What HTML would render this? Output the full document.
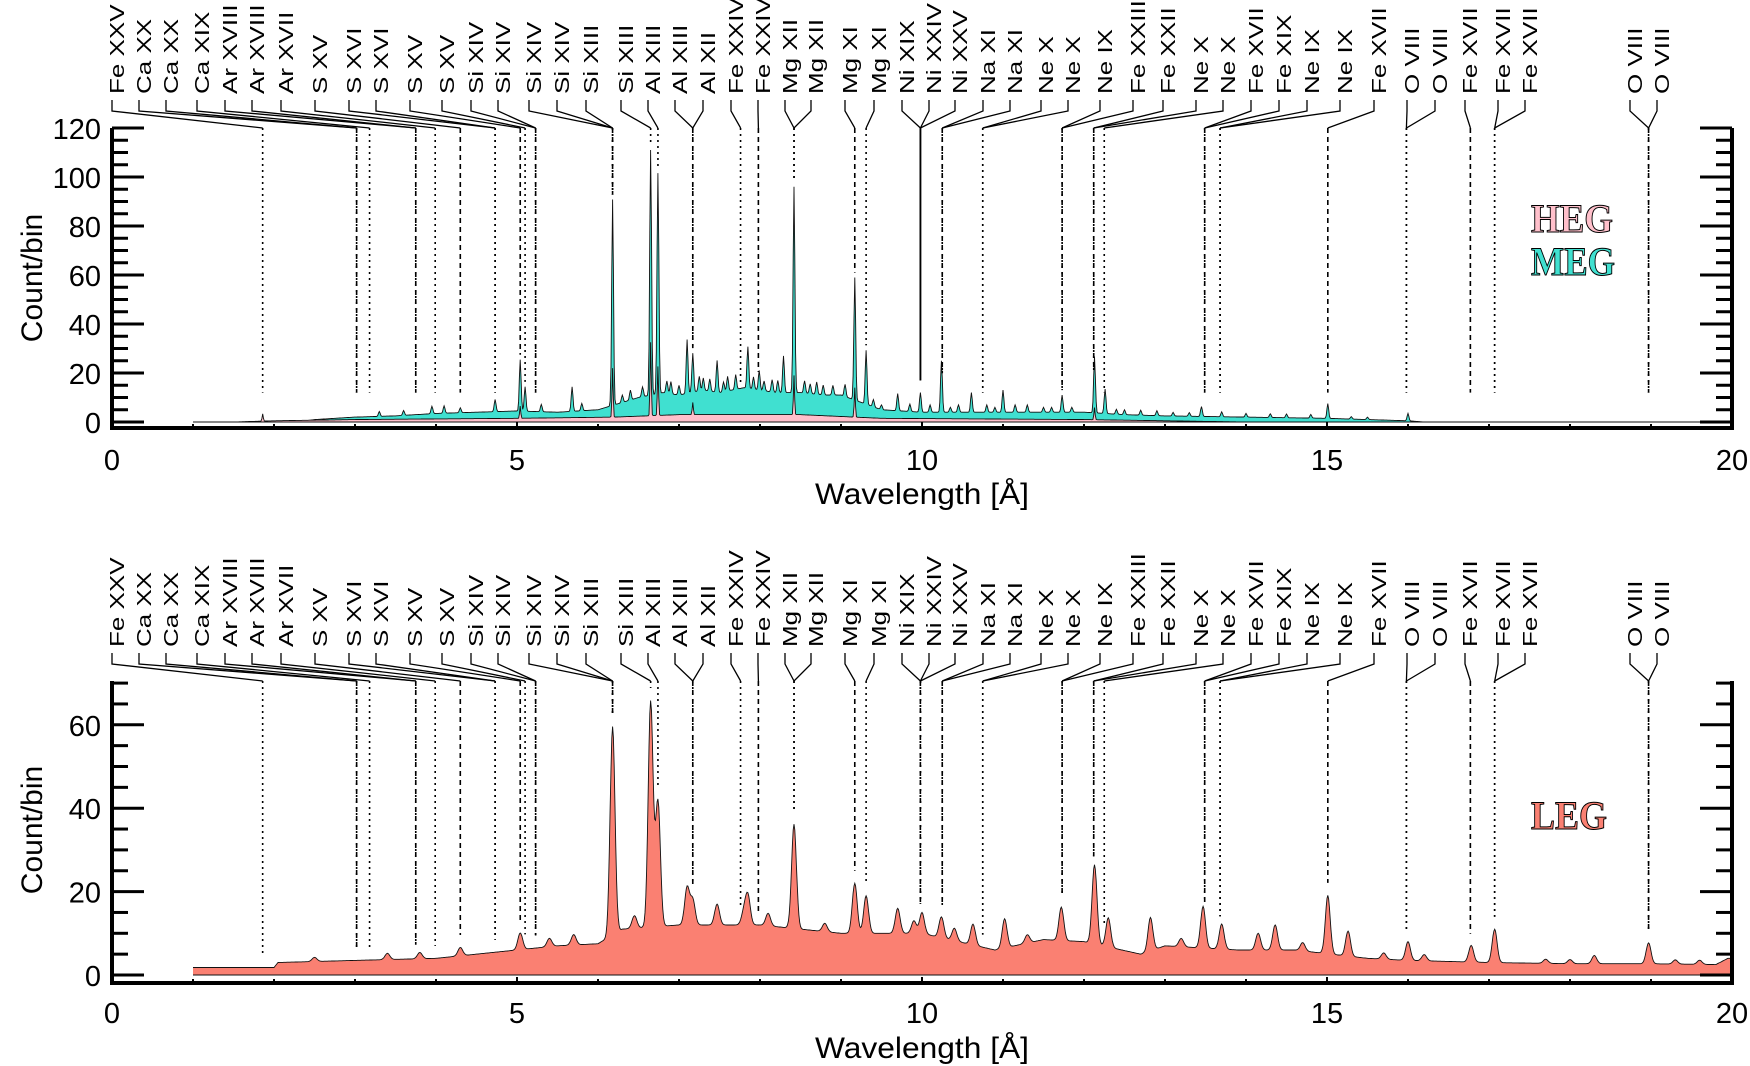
<!DOCTYPE html>
<html><head><meta charset="utf-8"><style>
html,body{margin:0;padding:0;background:#fff;}
svg{display:block;font-family:"Liberation Sans",sans-serif;}
</style></head><body>
<svg id="chart" width="1750" height="1066" viewBox="0 0 1750 1066" xmlns="http://www.w3.org/2000/svg">
<g id="top-panel"></g>
<g id="bot-panel"></g>
</svg>
<script>
// ---- data ----
const lineLabels = ["Fe XXV","Ca XX","Ca XX","Ca XIX","Ar XVIII","Ar XVIII","Ar XVII","S XV","S XVI","S XVI","S XV","S XV","Si XIV","Si XIV","Si XIV","Si XIV","Si XIII","Si XIII","Al XIII","Al XIII","Al XII","Fe XXIV","Fe XXIV","Mg XII","Mg XII","Mg XI","Mg XI","Ni XIX","Ni XXIV","Ni XXV","Na XI","Na XI","Ne X","Ne X","Ne IX","Fe XXIII","Fe XXII","Ne X","Ne X","Fe XVII","Fe XIX","Ne IX","Ne IX","Fe XVII","O VIII","O VIII","Fe XVII","Fe XVII","Fe XVII","O VIII","O VIII"];
const lineWave = [1.86,3.02,3.02,3.18,3.75,3.75,3.99,4.30,4.73,4.73,5.04,5.10,5.23,5.23,6.18,6.18,6.18,6.65,6.74,7.17,7.17,7.76,7.98,8.42,8.42,9.17,9.31,9.98,9.98,9.98,10.25,10.25,10.75,10.75,11.73,11.73,12.12,12.12,12.25,13.49,13.49,13.68,13.68,15.01,15.98,15.98,16.77,17.07,17.07,18.97,18.97];
const labelSlotPx = [112,139,166,197,225,252,281,315,349,376,410,442,471,498,529,557,586,621,648,675,703,731,758,785,811,845,874,902,929,955,983,1010,1041,1068,1100,1133,1163,1196,1223,1251,1279,1307,1340,1374,1407,1435,1465,1498,1525,1630,1657];

const megContWave = [1.0,2.3,2.5,3.0,3.5,4.0,4.5,5.0,5.5,6.0,6.3,6.5,6.8,7.0,7.3,7.5,7.8,8.0,8.2,8.5,8.8,9.0,9.5,10.0,11.0,12.0,12.5,13.0,14.0,15.0,16.0,16.2];
const megContVal  = [0,0,1,2,2.5,3.5,4,4.5,4,5,8,10,12,11,13,12,14,13,12,12,11,11,5,4,4,4,3,2.5,2,1.5,0.5,0];
const megPeakWave = [3.95,4.30,4.73,5.04,5.10,5.68,6.18,6.65,6.74,7.10,7.17,7.47,7.85,7.99,8.29,8.42,9.17,9.31,9.70,9.98,10.24,10.61,11.00,11.73,12.13,12.26,13.45,15.01,16.00,16.78,17.06,6.40,6.90,7.30,7.60,8.15,8.70,8.90,10.45,10.80,11.30,11.50,12.50,12.90,14.00,14.50,3.3,3.6,4.1,5.3,5.8,6.3,6.55,6.85,7.0,7.25,7.38,7.55,7.7,7.92,8.05,8.22,8.55,8.62,8.78,9.05,9.4,9.5,9.85,10.1,10.35,10.9,11.15,11.6,11.85,12.4,12.7,13.1,13.3,13.7,14.3,14.8,15.3,15.5];
const megPeakAmp  = [3,2,5,21,10,10,84,100,90,22,16,13,17,8,15,84,50,22,7,8,21,8,9,7,23,10,4,6,3,1.5,1,4,5,5,6,5,5,4,3,3,3,2,2,2,1.5,1.5,2,2,3,3,3,3,4,5,4,6,5,4,6,5,4,5,5,4,4,5,3,2,3,3,2,2,3,2,2,2,2,1.5,1.5,2,1.5,1.5,1,1];
const hegContWave = [1.5,2.0,3.0,5.0,6.2,7.0,8.5,9.5,12.0,13.0,14.0];
const hegContVal  = [0,0.5,1,1.5,2,3,3,1.5,1,0.5,0];
const hegPeakWave = [1.86,5.04,6.18,6.65,6.74,7.17,8.42,9.17,12.13];
const hegPeakAmp  = [3,5,20,30,20,5,16,12,5];
const legContWave = [1.0,2.0,2.05,3.0,4.0,4.5,5.0,5.5,6.0,6.3,7.0,7.5,8.0,8.5,9.0,9.5,10.0,10.9,11.5,12.0,12.7,13.0,13.9,14.6,15.5,16.0,17.0,18.0,19.0,19.8,19.95,20.0];
const legContVal  = [1.8,1.8,3,3.5,4,5,6,7,7.5,11,12,12,12,11,10,10,10,6,8.5,8,5,7,6,6,4,3.5,3,2.7,2.7,2.5,4,4];
const legPeakWave = [5.04,6.18,6.65,6.74,7.10,7.17,7.47,7.85,8.42,9.17,9.31,9.70,10.00,10.24,10.63,11.02,11.72,12.13,12.30,12.82,13.47,13.70,14.15,14.36,15.01,15.26,16.00,16.78,17.07,18.97,18.30,2.5,3.4,3.8,4.3,5.4,5.7,6.45,7.8,8.1,8.8,9.9,10.4,11.3,13.2,14.7,15.7,16.2,17.7,18.0,19.3,19.6];
const legPeakAmp  = [4,50,54,30,9,6,5,7,25,12,9,6,5,5,5,7,8,19,7,8,10,6,4,6,14,6,4.5,4,8,5,2,1,1.5,1.5,2,2,2.5,3,3,3,2,3,3,2,2,2,1.5,1.5,1,1,1,1];

const NS = "http://www.w3.org/2000/svg";
const X0 = 112, X1 = 1732;
function xs(w){ return X0 + (X1 - X0) * w / 20; }
function interp(ws, vs, w){
  if (w < ws[0] || w > ws[ws.length-1]) return null;
  for (let i=0;i<ws.length-1;i++){ if (w<=ws[i+1]){ const t=(w-ws[i])/(ws[i+1]-ws[i]); return vs[i]+t*(vs[i+1]-vs[i]); } }
  return vs[vs.length-1];
}
function spec(cw, cv, pw, pa, sig, w){
  const c = interp(cw, cv, w); if (c===null) return null;
  let v = c;
  for (let i=0;i<pw.length;i++){ const d=(w-pw[i])/sig; if (Math.abs(d)<5) v += pa[i]*Math.exp(-0.5*d*d); }
  return v;
}
function mk(tag, attrs, parent){ const e=document.createElementNS(NS,tag); for (const k in attrs) e.setAttribute(k, attrs[k]); parent.appendChild(e); return e; }

function drawPanel(g, cfg){
  const ys = v => cfg.y0 - v * cfg.k;
  cfg.series.forEach(s => {
    let pts = [];
    for (let i=0;i<=2000;i++){ const w=i*0.01; const v=spec(s.cw,s.cv,s.pw,s.pa,s.sig,w); if (v!==null) pts.push([xs(w), ys(Math.max(v,0))]); }
    const base = ys(0);
    const d = "M"+pts[0][0].toFixed(1)+","+base+" "+pts.map(p=>"L"+p[0].toFixed(1)+","+p[1].toFixed(1)).join(" ")+" L"+pts[pts.length-1][0].toFixed(1)+","+base+" Z";
    const area = mk("path",{d:d, fill:s.color, stroke:"none"}, g);
    
    
    const line = mk("polyline",{points:pts.map(p=>p[0].toFixed(1)+","+p[1].toFixed(1)).join(" "), fill:"none", stroke:"#111", "stroke-width":"0.9"}, g);
    
    
  });
  const zl = mk("line",{x1:xs(1.0),x2:X1,y1:ys(0),y2:ys(0),stroke:"#111","stroke-width":"1"}, g);
  
  
  const axB = cfg.axisBottom, axT = cfg.axisTop;
  const ax = mk("path",{d:`M${X0},${axT} L${X0},${axB} L${X1},${axB} L${X1},${axT}`, fill:"none", stroke:"#000","stroke-width":"4"}, g);
  
  
  for (let v=0; v<=cfg.yMax; v+=5){
    const y = ys(v); const L = (v%20===0)?32:16;
    mk("line",{x1:X0,x2:X0+L,y1:y,y2:y,stroke:"#000","stroke-width":"3"}, g);
    mk("line",{x1:X1,x2:X1-L,y1:y,y2:y,stroke:"#000","stroke-width":"3"}, g);
    if (v%20===0){
      const t = mk("text",{x:101,y:y+11,"text-anchor":"end","font-size":"29"}, g);
      t.textContent = v;
      
      
    }
  }
  for (let w=0; w<=20; w++){
    const L = (w%5===0)?6:4;
    mk("line",{x1:xs(w),x2:xs(w),y1:axB,y2:axB-L,stroke:"#000","stroke-width":"2"}, g);
    if (w%5===0){
      const t = mk("text",{x:xs(w),y:cfg.xLabY,"text-anchor":"middle","font-size":"29"}, g);
      t.textContent = w;
      
      
    }
  }
  const xt = mk("text",{x:922,y:cfg.xTitleY,"text-anchor":"middle","font-size":"30",textLength:"214",lengthAdjust:"spacingAndGlyphs"}, g);
  xt.textContent = "Wavelength [Å]";
  
  
  const yt = mk("text",{transform:`translate(42,${cfg.yTitleC}) rotate(-90)`,"text-anchor":"middle","font-size":"30"}, g);
  yt.textContent = "Count/bin";
  
  
  for (let i=0;i<lineLabels.length;i++){
    const sx = labelSlotPx[i], tx = xs(lineWave[i]), yb = cfg.labBottom;
    const lab = mk("text",{transform:`translate(${sx+12},${yb}) rotate(-90) scale(1.3,1)`,"font-size":"20"}, g);
    lab.textContent = lineLabels[i];
    
    
    const st = mk("path",{d:`M${sx},${yb+6} L${sx},${yb+17} L${tx.toFixed(1)},${axT}`,fill:"none",stroke:"#000","stroke-width":"1.3"}, g);
    
    
    let endV = cfg.endVal(lineWave[i]);
    const solid = cfg.solidAt && Math.abs(lineWave[i]-cfg.solidAt)<0.01;
    const dl = mk("line",{x1:tx,x2:tx,y1:axT,y2:ys(endV),stroke:"#000","stroke-width":"1.6","stroke-dasharray":solid?"none":(i%3===1?"5,4":"2,4")}, g);
    
    
  }
  cfg.legend.forEach(l => {
    const t = mk("text",{x:1531,y:l.y,"font-family":"Liberation Serif, serif","font-weight":"bold","font-size":"40",fill:l.color,stroke:"#000","stroke-width":"1",textLength:l.len,lengthAdjust:"spacingAndGlyphs"}, g);
    t.textContent = l.text;
    
    
  });
}

const megVal = w => spec(megContWave,megContVal,megPeakWave,megPeakAmp,0.011,w) || 0;
const legVal = w => spec(legContWave,legContVal,legPeakWave,legPeakAmp,0.03,w) || 0;

drawPanel(document.getElementById("top-panel"), {
  y0:422, k:2.45, yMax:120, axisTop:128, axisBottom:428, xLabY:470, xTitleY:504, yTitleC:278, labBottom:94,
  solidAt:9.98,
  endVal: w => Math.abs(w-9.98)<0.01 ? 17 : Math.max(megVal(w)+2, 12),
  series:[
    {name:"meg", color:"#40e0d0", cw:megContWave, cv:megContVal, pw:megPeakWave, pa:megPeakAmp, sig:0.011},
    {name:"heg", color:"#ffc0cb", cw:hegContWave, cv:hegContVal, pw:hegPeakWave, pa:hegPeakAmp, sig:0.007}
  ],
  legend:[{text:"HEG", color:"#ffc0cb", y:232, len:82},{text:"MEG", color:"#40e0d0", y:275, len:84}]
});
drawPanel(document.getElementById("bot-panel"), {
  y0:975, k:4.17, yMax:70, axisTop:681, axisBottom:983, xLabY:1023, xTitleY:1058, yTitleC:830, labBottom:647,
  solidAt:null,
  endVal: w => legVal(w)+3,
  series:[
    {name:"leg", color:"#fa8072", cw:legContWave, cv:legContVal, pw:legPeakWave, pa:legPeakAmp, sig:0.03}
  ],
  legend:[{text:"LEG", color:"#fa8072", y:829, len:76}]
});
</script>
</body></html>
